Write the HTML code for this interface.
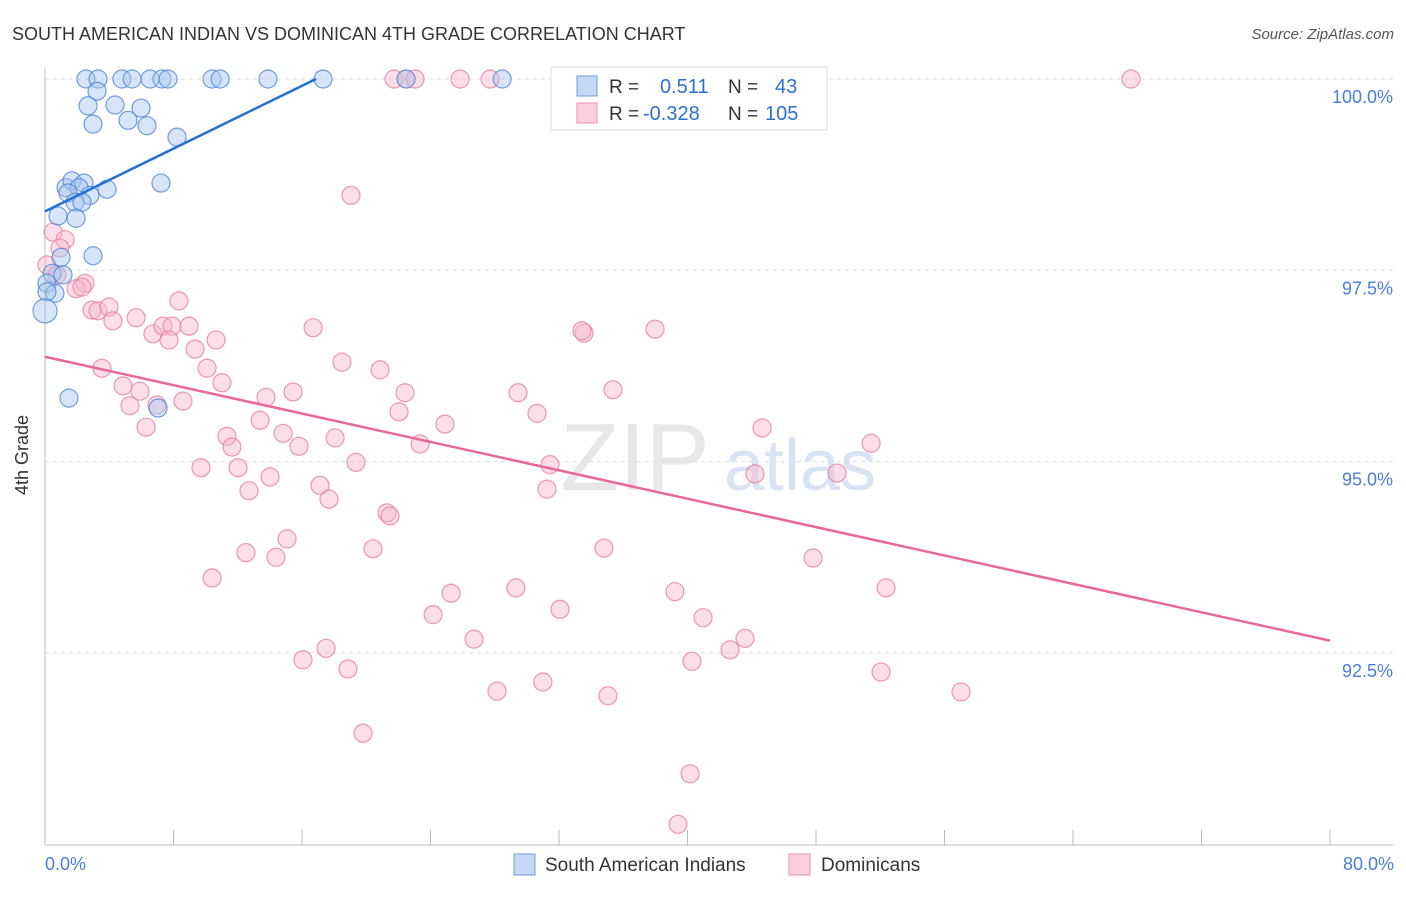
<!DOCTYPE html>
<html><head><meta charset="utf-8"><style>
body{margin:0;background:#fff;font-family:"Liberation Sans",sans-serif}
svg text{font-family:"Liberation Sans",sans-serif}
</style></head><body>
<svg id="chart" width="1406" height="892" xmlns="http://www.w3.org/2000/svg">
<text x="12" y="40" font-size="18" fill="#333">SOUTH AMERICAN INDIAN VS DOMINICAN 4TH GRADE CORRELATION CHART</text>
<text x="1394" y="39" font-size="15" fill="#555" text-anchor="end" font-style="italic">Source: ZipAtlas.com</text>
<g><text x="635" y="490" font-size="96" fill="#ddd" font-family="Liberation Serif" text-anchor="middle" opacity="0.7">ZIP</text><text x="800" y="490" font-size="72" fill="#c8d8ee" text-anchor="middle" opacity="0.7">atlas</text></g>
<g id="grid"></g><g id="axes"></g><g id="pts"></g><g id="trends"></g>
<text x="28" y="455" font-size="18" fill="#333" text-anchor="middle" transform="rotate(-90 28 455)">4th Grade</text>
<text x="45" y="870" font-size="18" fill="#4a7fd6">0.0%</text>
<text x="1394" y="870" font-size="18" fill="#4a7fd6" text-anchor="end">80.0%</text>
<g>
<rect x="551" y="67" width="276" height="63" fill="#fff" stroke="#ddd"/>
<rect x="577" y="76" width="20" height="20" fill="#c5d9f5" stroke="#6d9be0"/>
<rect x="577" y="103" width="20" height="20" fill="#fbd0dc" stroke="#ee8fac"/>
<text x="609" y="93" font-size="19" fill="#333">R =</text><text x="660" y="93" font-size="20" fill="#2f6fd0">0.511</text>
<text x="728" y="93" font-size="19" fill="#333">N =</text><text x="775" y="93" font-size="20" fill="#2f6fd0">43</text>
<text x="609" y="120" font-size="19" fill="#333">R =</text><text x="643" y="120" font-size="20" fill="#2f6fd0">-0.328</text>
<text x="728" y="120" font-size="19" fill="#333">N =</text><text x="765" y="120" font-size="20" fill="#2f6fd0">105</text>
</g>
<g>
<rect x="514" y="854" width="21" height="21" fill="#c5d9f5" stroke="#6d9be0"/>
<text x="545" y="871" font-size="19" fill="#333">South American Indians</text>
<rect x="789" y="854" width="21" height="21" fill="#fbd0dc" stroke="#ee8fac"/>
<text x="821" y="871" font-size="19" fill="#333">Dominicans</text>
</g>
</svg>
<script>
const blueX=[2.55,3.30,4.79,5.42,6.54,7.28,7.66,10.40,10.90,13.88,17.31,22.48,28.46,3.24,2.68,4.36,5.98,2.99,5.17,6.35,8.22,1.31,1.68,2.43,2.12,1.43,3.86,2.80,1.87,2.30,0.81,1.93,7.22,1.00,2.99,0.44,1.12,0.12,0.62,0.12,0,1.49,7.04];
const blueY=[100,100,100,100,100,100,100,100,100,100,100,100,100,99.84,99.65,99.66,99.62,99.41,99.46,99.39,99.24,98.58,98.67,98.64,98.58,98.51,98.56,98.48,98.39,98.39,98.21,98.18,98.64,97.67,97.69,97.46,97.44,97.33,97.20,97.22,96.97,95.83,95.70];
const pinkX=[21.73,22.48,23.04,25.84,27.71,32.44,45.45,67.61,19.05,0.50,1.25,0.93,0.12,0.75,2.49,1.93,2.30,2.93,3.30,3.98,4.23,5.67,6.72,7.35,7.91,7.72,8.34,8.97,10.65,9.34,16.69,33.56,33.43,37.98,3.55,10.09,11.02,18.49,20.86,4.86,5.91,5.29,6.97,8.59,13.76,15.44,22.41,29.45,35.36,30.63,22.04,6.29,13.39,11.33,14.82,11.64,15.81,18.06,23.35,24.90,44.64,51.43,9.71,12.02,14.01,19.36,31.44,31.25,17.12,17.68,12.70,44.20,49.31,21.29,21.48,15.07,12.51,14.38,20.42,34.80,47.82,10.40,25.28,29.32,32.06,39.22,52.36,24.16,40.97,26.71,43.58,42.65,17.50,16.06,18.86,40.28,52.05,28.14,31.00,35.05,57.03,19.80,40.16,39.41];
const pinkY=[100,100,100,100,100,100,100,100,98.48,98.00,97.90,97.79,97.57,97.44,97.33,97.26,97.28,96.98,96.97,97.02,96.84,96.88,96.67,96.77,96.77,96.59,97.10,96.77,96.59,96.47,96.75,96.68,96.71,96.73,96.22,96.22,96.03,96.30,96.20,95.99,95.92,95.73,95.74,95.79,95.84,95.91,95.90,95.90,95.94,95.63,95.65,95.45,95.54,95.33,95.37,95.19,95.20,95.31,95.23,95.49,95.44,95.24,94.92,94.92,94.80,94.99,94.96,94.64,94.69,94.51,94.62,94.84,94.85,94.33,94.29,93.99,93.81,93.75,93.86,93.87,93.74,93.48,93.28,93.35,93.07,93.30,93.35,93.00,92.96,92.68,92.69,92.54,92.56,92.41,92.29,92.39,92.25,92.00,92.12,91.94,91.99,91.45,90.92,90.26];
const yTicks=[100,97.5,95,92.5];
const yTickLabels=["100.0%","97.5%","95.0%","92.5%"];
const xTicks=[0,8,16,24,32,40,48,56,64,72,80];
const blueTrend=[[0,98.27],[16.87,100]];
const pinkTrend=[[0,96.37],[80,92.66]];
const NS="http://www.w3.org/2000/svg";
const sx=v=>45+v*1285/80, sy=v=>79+(100-v)*191.3/2.5;
function mk(tag,attrs,parent){const e=document.createElementNS(NS,tag);for(const k in attrs)e.setAttribute(k,attrs[k]);parent.appendChild(e);return e;}
const grid=document.getElementById('grid'),axes=document.getElementById('axes'),pts=document.getElementById('pts'),tr=document.getElementById('trends');
yTicks.forEach((t,i)=>{const l=mk('line',{x1:45,x2:1393,y1:sy(t),y2:sy(t),stroke:'#ddd','stroke-dasharray':'4,4'},grid);


const tx=mk('text',{x:1393,y:sy(t)+24,'font-size':18,fill:'#4a7fd6','text-anchor':'end'},grid);tx.textContent=yTickLabels[i];

});
const ya=mk('line',{x1:45,x2:45,y1:68,y2:845,stroke:'#bbb'},axes);


const xa=mk('line',{x1:45,x2:1393,y1:845,y2:845,stroke:'#bbb'},axes);


xTicks.forEach(t=>{const l=mk('line',{x1:sx(t),x2:sx(t),y1:830,y2:845,stroke:'#bbb'},axes);

});
function dots(X,Y,fill,stroke,name){X.forEach((x,i)=>{const c=mk('circle',{cx:sx(x),cy:sy(Y[i]),r:(x===0?12:9),fill:fill,'fill-opacity':0.45,stroke:stroke,'stroke-width':1.2,'stroke-opacity':0.8},pts);

});}
dots(pinkX,pinkY,'#f7b6c9','#e8809f','dominican-point');
dots(blueX,blueY,'#a9c6f0','#4f86d8','south-american-indian-point');
const b=mk('line',{x1:sx(blueTrend[0][0]),y1:sy(blueTrend[0][1]),x2:sx(blueTrend[1][0]),y2:sy(blueTrend[1][1]),stroke:'#2270d8','stroke-width':2.5},tr);


const p=mk('line',{x1:sx(pinkTrend[0][0]),y1:sy(pinkTrend[0][1]),x2:sx(pinkTrend[1][0]),y2:sy(pinkTrend[1][1]),stroke:'#e8689a','stroke-width':2.5},tr);


</script>
</body></html>
